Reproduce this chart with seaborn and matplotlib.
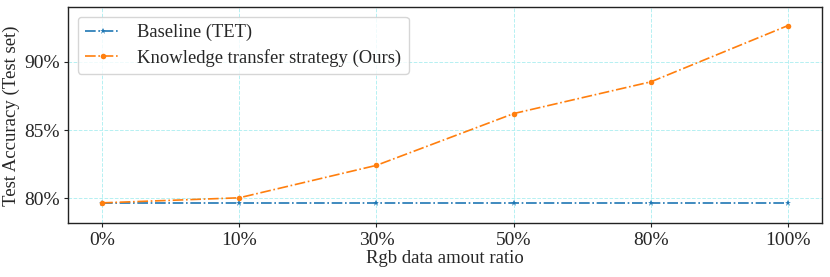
import matplotlib
matplotlib.use("Agg")
import matplotlib.pyplot as plt
import seaborn as sns
import pandas as pd
from matplotlib.ticker import FuncFormatter

ratios = ["0%", "10%", "30%", "50%", "80%", "100%"]
baseline = [79.68, 79.68, 79.68, 79.68, 79.68, 79.68]
ours = [79.68, 80.05, 82.42, 86.2, 88.52, 92.63]

sns.set_theme(style="ticks")
plt.rcParams['font.family'] = ['Liberation Serif', 'DejaVu Serif']

pos = list(range(len(ratios)))
df = pd.DataFrame({
    "pos": pos * 2,
    "acc": baseline + ours,
    "method": ["Baseline (TET)"] * len(ratios) + ["Knowledge transfer strategy (Ours)"] * len(ratios),
})

fig, ax = plt.subplots(figsize=(8.3, 2.77), dpi=100)
fig.subplots_adjust(left=0.0823, right=0.990, top=0.9736, bottom=0.194)

colors = {"Baseline (TET)": "#1f77b4", "Knowledge transfer strategy (Ours)": "#ff7f0e"}
markers = {"Baseline (TET)": "*", "Knowledge transfer strategy (Ours)": "o"}
for name in ["Baseline (TET)", "Knowledge transfer strategy (Ours)"]:
    sub = df[df["method"] == name]
    sns.lineplot(data=sub, x="pos", y="acc", ax=ax, color=colors[name],
                 linestyle="-.", marker=markers[name], markersize=4 if name.startswith("K") else 5,
                 markeredgewidth=0, label=name, linewidth=1.2)

ax.set_xticks(pos)
ax.set_xticklabels(ratios)
ax.set_xlim(-0.246, 5.245)
ax.set_ylim(78.19, 93.96)
ax.set_yticks([80, 85, 90])
ax.yaxis.set_major_formatter(FuncFormatter(lambda v, p: f"{v:.0f}%"))
ax.tick_params(labelsize=14, length=3, width=0.8, color="#222222", pad=3)
ax.set_xlabel("Rgb data amout ratio", fontsize=13.5, labelpad=1)
ax.set_ylabel("Test Accuracy (Test set)", fontsize=13.5, labelpad=3)
ax.grid(True, linestyle="--", color="#b5f0f2", linewidth=0.7)
for s in ax.spines.values():
    s.set_color("#222222")
    s.set_linewidth(1.0)
leg = ax.legend(loc="upper left", fontsize=13.4, frameon=True, fancybox=True,
                borderpad=0.4, borderaxespad=0.5, handlelength=1.9,
                handletextpad=0.9, labelspacing=0.4)
leg.get_frame().set_edgecolor("#cccccc")
fig.savefig("out.png", dpi=100)
